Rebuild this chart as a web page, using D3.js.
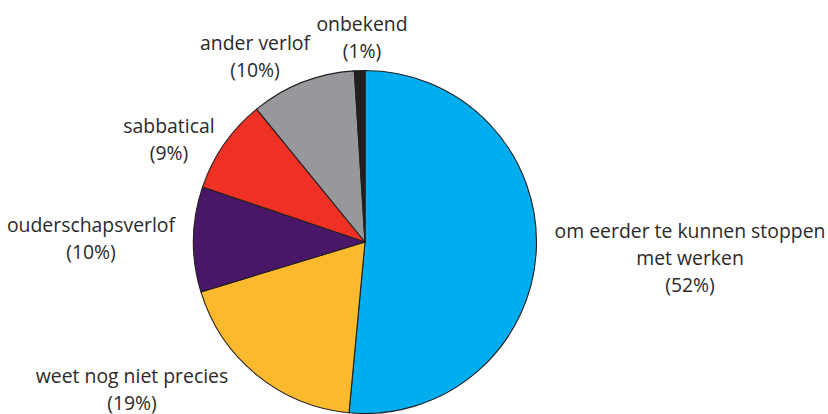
<!DOCTYPE html>
<html>
<head>
<meta charset="utf-8">
<script src="https://cdn.jsdelivr.net/npm/d3@7"></script>
<style>
  html, body { margin: 0; padding: 0; background: #fff; }
  svg text { font-family: "Open Sans", "Noto Sans", sans-serif; fill: #2b2a29; }
</style>
</head>
<body>
<div id="chart"></div>
<script>
// Reasons for saving leave (percentages)
const categories = ['om eerder te kunnen stoppen met werken', 'weet nog niet precies', 'ouderschapsverlof', 'sabbatical', 'ander verlof', 'onbekend'];
const values = [52, 19, 10, 9, 10, 1];
const labelLines = [
  ['om eerder te kunnen stoppen', 'met werken', '(52%)'],
  ['weet nog niet precies', '(19%)'],
  ['ouderschapsverlof', '(10%)'],
  ['sabbatical', '(9%)'],
  ['ander verlof', '(10%)'],
  ['onbekend', '(1%)']
];
const colors = ['#00aeef', '#fbba2e', '#4a1768', '#ee3124', '#97989b', '#231f20'];

// label anchors (centre x, baseline of first line)
const labelPos = [[690, 238], [132, 383], [91, 232], [169, 133], [255, 50], [362, 31]];

const width = 828, height = 414;
const cx = 365, cy = 242, radius = 171.5;
const lineHeight = 27;

const svg = d3.select('#chart')
  .append('svg')
  .attr('width', width)
  .attr('height', height);

const pie = d3.pie().sort(null).value(d => d);
const arc = d3.arc().innerRadius(0).outerRadius(radius);

const g = svg.append('g').attr('transform', `translate(${cx},${cy})`);

g.selectAll('path')
  .data(pie(values))
  .enter()
  .append('path')
  .attr('d', arc)
  .attr('fill', (d, i) => colors[i])
  .attr('stroke', '#231f20')
  .attr('stroke-width', 1.1)
  .attr('stroke-linejoin', 'round');

// labels
const labels = svg.append('g')
  .selectAll('text')
  .data(categories)
  .enter()
  .append('text')
  .attr('text-anchor', 'middle')
  .attr('font-size', '19.4px')
  .attr('x', (d, i) => labelPos[i][0])
  .attr('y', (d, i) => labelPos[i][1]);

labels.each(function(d, i) {
  d3.select(this).selectAll('tspan')
    .data(labelLines[i])
    .enter()
    .append('tspan')
    .attr('x', labelPos[i][0])
    .attr('dy', (l, j) => j === 0 ? 0 : lineHeight)
    .text(l => l);
});
</script>
</body>
</html>
